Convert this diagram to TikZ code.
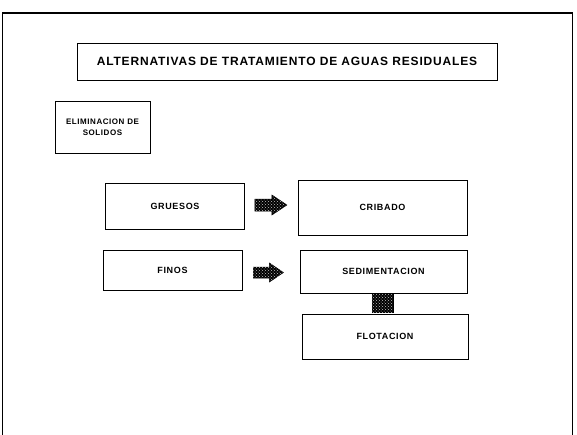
\documentclass[tikz,border=0pt]{standalone}
\usepackage{fontspec}
\setmainfont{Liberation Sans}
\newfontfamily\spaced[LetterSpace=7]{Liberation Sans}
\usetikzlibrary{patterns,calc}
\begin{document}
\begin{tikzpicture}[x=1pt,y=-1pt,
  boxx/.style={draw,line width=0.8pt,inner sep=0pt,font=\spaced\bfseries\fontsize{9}{11}\selectfont,align=center},
  dotfill/.style={draw=black,fill=black,line width=0.5pt,postaction={pattern=crosshatch dots,pattern color=white!75!black}}]
\useasboundingbox (0,0) rectangle (577,434);
\fill[white] (0,0) rectangle (577,434);
% outer frame
\draw[line width=1.4pt] (2.5,440) -- (2.5,13) -- (572.5,13) -- (572.5,440);
% title
\node[boxx,minimum width=420pt,minimum height=37pt,font=\spaced\bfseries\fontsize{12}{14}\selectfont] (title) at (287,61.5) {ALTERNATIVAS DE TRATAMIENTO DE AGUAS RESIDUALES};
\node[boxx,minimum width=95pt,minimum height=52pt,font=\spaced\bfseries\fontsize{8}{11}\selectfont] (elim) at (102.5,127) {ELIMINACION DE\\SOLIDOS};
\node[boxx,minimum width=139pt,minimum height=46pt] (grue) at (175,206) {GRUESOS};
\node[boxx,minimum width=169pt,minimum height=55pt] (crib) at (382.5,207.5) {CRIBADO};
\node[boxx,minimum width=139pt,minimum height=40pt] (fino) at (172.5,270) {FINOS};
\node[boxx,minimum width=167pt,minimum height=43pt] (sedi) at (383.5,271.5) {SEDIMENTACION};
\node[boxx,minimum width=166pt,minimum height=45pt] (flot) at (385,336.5) {FLOTACION};
% arrows
\coordinate (a1) at ($(grue.east)+(10,-1)$);
\draw[dotfill] (a1) ++(0,-6) -- ++(17,0) -- ++(0,-4) -- ++(15,10) -- ++(-15,10) -- ++(0,-4) -- ++(-17,0) -- cycle;
\coordinate (a2) at ($(fino.east)+(11,2.5)$);
\draw[dotfill] (a2) ++(0,-5.5) -- ++(16,0) -- ++(0,-4) -- ++(14,9.5) -- ++(-14,9.5) -- ++(0,-4) -- ++(-16,0) -- cycle;
\node[dotfill,minimum width=21pt,minimum height=18pt,inner sep=0pt] (sq) at ($(sedi.south)!0.5!(flot.north)+(-2,0)$) {};
\end{tikzpicture}
\end{document}
